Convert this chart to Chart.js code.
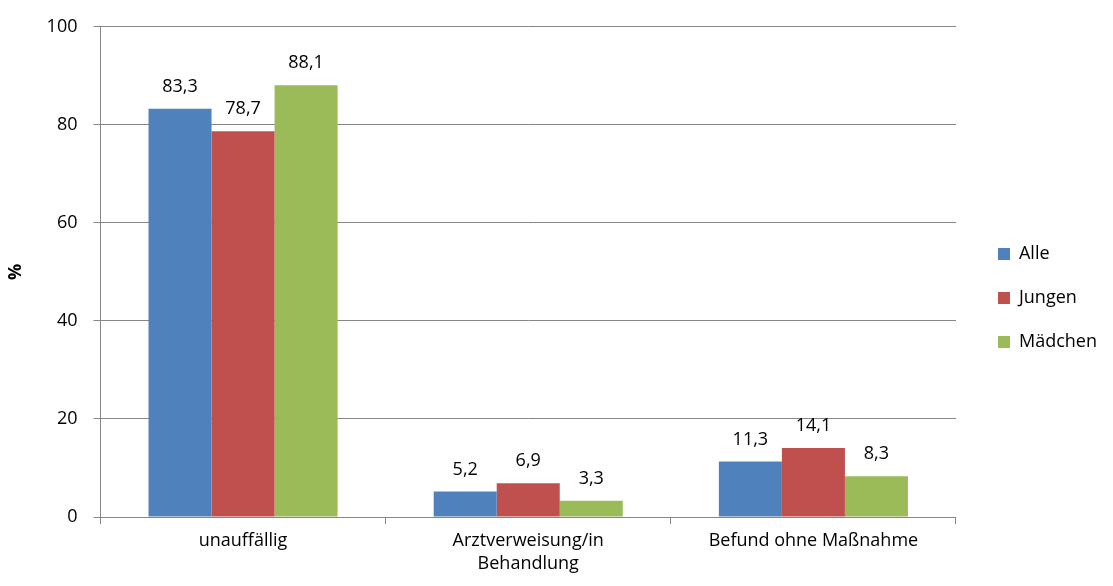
<!DOCTYPE html>
<html><head><meta charset="utf-8">
<script src="https://cdn.jsdelivr.net/npm/chart.js@4"></script>
<style>html,body{margin:0;padding:0;background:#fff}#wrap{width:1113px;height:586px}</style>
</head><body><div id="wrap"><canvas id="c" width="1113" height="586"></canvas></div>
<script>
const categories = ["unauffällig", ["Arztverweisung/in", "Behandlung"], "Befund ohne Maßnahme"];
const seriesNames = ["Alle", "Jungen", "Mädchen"];
const alle = [83.3, 5.2, 11.3];
const jungen = [78.7, 6.9, 14.1];
const maedchen = [88.1, 3.3, 8.3];
const colors = ["#4F81BD", "#C0504D", "#9BBB59"];
const yTicks = [0, 20, 40, 60, 80, 100];

const FONT = "'Open Sans', sans-serif";
const FS = 18;

// legend swatches: transparent lead-in space followed by a 12px square
function swatch(color) {
  const cv = document.createElement('canvas');
  cv.width = 28; cv.height = 12;
  const g = cv.getContext('2d');
  g.fillStyle = color;
  g.fillRect(16, 0, 12, 12);
  return cv;
}
const swatches = colors.map(swatch);

const labelPlugin = {
  id: 'valLabels',
  afterDatasetsDraw(chart) {
    const ctx = chart.ctx;
    ctx.save();
    ctx.font = FS + "px " + FONT;
    ctx.fillStyle = "#000";
    ctx.textAlign = "center";
    ctx.textBaseline = "bottom";
    chart.data.datasets.forEach((ds, i) => {
      chart.getDatasetMeta(i).data.forEach((bar, j) => {
        ctx.fillText(ds.data[j].toFixed(1).replace('.', ','), bar.x, bar.y - 13);
      });
    });
    ctx.restore();
  }
};

new Chart(document.getElementById('c'), {
  type: 'bar',
  data: {
    labels: categories,
    datasets: [
      { label: seriesNames[0], data: alle, backgroundColor: colors[0] },
      { label: seriesNames[1], data: jungen, backgroundColor: colors[1] },
      { label: seriesNames[2], data: maedchen, backgroundColor: colors[2] }
    ]
  },
  options: {
    responsive: false,
    animation: false,
    devicePixelRatio: 1,
    layout: { padding: { top: 14, left: 1, right: 6, bottom: 5 } },
    datasets: { bar: { barPercentage: 1.0, categoryPercentage: 0.663 } },
    plugins: {
      legend: {
        position: 'right',
        labels: {
          usePointStyle: true, pointStyleWidth: 28, boxHeight: 12,
          padding: 26, color: '#000', font: { family: FONT, size: FS },
          generateLabels(chart) {
            const items = Chart.defaults.plugins.legend.labels.generateLabels(chart);
            items.forEach((it, i) => { it.pointStyle = swatches[i]; });
            return items;
          }
        }
      },
      tooltip: { enabled: false }
    },
    scales: {
      x: {
        grid: { display: true, drawOnChartArea: false, offset: true, tickLength: 7, color: '#868686' },
        border: { color: '#868686', width: 1 },
        ticks: { color: '#000', font: { family: FONT, size: FS, lineHeight: 1.25 }, maxRotation: 0, padding: 6 }
      },
      y: {
        min: 0, max: 100,
        afterBuildTicks(axis) { axis.ticks = yTicks.map(v => ({ value: v })); },
        grid: { color: '#868686', tickLength: 7 },
        border: { color: '#868686', width: 1 },
        ticks: { color: '#000', font: { family: FONT, size: FS }, padding: 16 },
        title: { display: true, text: '%', color: '#000', font: { family: FONT, size: FS, weight: 'bold' }, padding: { top: 4, bottom: 4 } }
      }
    }
  },
  plugins: [labelPlugin]
});
</script></body></html>
